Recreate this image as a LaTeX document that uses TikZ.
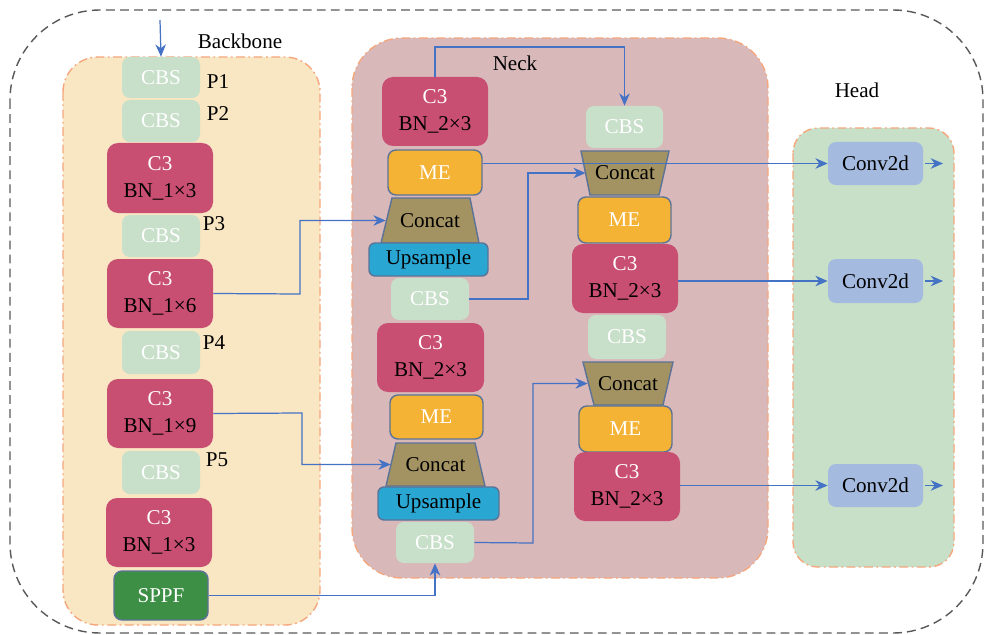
\documentclass[tikz,border=0pt]{standalone}
\usepackage{fontspec}
\setmainfont{Liberation Serif}
\usetikzlibrary{arrows.meta}
\definecolor{bbfill}{HTML}{F9E6C3}
\definecolor{neckfill}{HTML}{D9B8BA}
\definecolor{headfill}{HTML}{C8DFC8}
\definecolor{cbsfill}{HTML}{C8DFCA}
\definecolor{cthree}{HTML}{C84E72}
\definecolor{mefill}{HTML}{F5B335}
\definecolor{catfill}{HTML}{A39262}
\definecolor{upfill}{HTML}{2AA6D2}
\definecolor{sppffill}{HTML}{3D8F45}
\definecolor{convfill}{HTML}{A4BADF}
\definecolor{edgeblue}{HTML}{5B7397}
\definecolor{orangeb}{HTML}{F5A77D}
\definecolor{arrblue}{HTML}{4472C4}
\newcommand{\bx}[7]{\node[#2, minimum width={(#5-#3)*0.02cm}, minimum height={(#6-#4)*0.02cm}] (#1) at ({(#3+#5)/2},{(#4+#6)/2}) {#7};}
\begin{document}
\begin{tikzpicture}[x=0.02cm,y=-0.02cm,
  font=\fontsize{12}{15.5}\selectfont,
  base/.style={inner sep=0pt, align=center},
  container/.style={draw=orangeb, line width=0.8pt, dash pattern=on 5pt off 2pt on 1pt off 2pt, rounded corners=0.7cm},
  cbsbox/.style={base, fill=cbsfill, rounded corners=0.16cm, text=white},
  cthreebox/.style={base, fill=cthree, rounded corners=0.22cm},
  mebox/.style={base, fill=mefill, draw=edgeblue, line width=0.8pt, rounded corners=0.16cm, text=white},
  upbox/.style={base, fill=upfill, draw=edgeblue, line width=0.8pt, rounded corners=0.12cm},
  sppfbox/.style={base, fill=sppffill, draw=edgeblue, line width=0.8pt, rounded corners=0.16cm, text=white},
  convbox/.style={base, fill=convfill, rounded corners=0.16cm},
  catshape/.style={fill=catfill, draw=edgeblue, line width=0.8pt},
  catnode/.style={base},
  lbl/.style={inner sep=0pt},
  arr/.style={draw=arrblue, line width=0.7pt, -{Stealth[length=7pt,width=6pt]}},
  conn/.style={draw=arrblue, line width=0.7pt}]
\useasboundingbox (0,0) rectangle (984,635);

% outer dashed frame
\draw[draw=black!65, line width=0.8pt, dash pattern=on 5pt off 3pt, rounded corners=1.8cm] (10,10) rectangle (983,633);

% containers
\draw[container, fill=bbfill] (63,57) rectangle (320,625);
\draw[container, fill=neckfill, rounded corners=1.0cm] (352,38) rectangle (768,578);
\draw[container, fill=headfill, rounded corners=0.5cm] (793,128) rectangle (954,567);

% titles
\node[lbl] (tbb) at (240,41) {Backbone};
\node[lbl] (tneck) at (515,63) {Neck};
\node[lbl] (thead) at (857,90) {Head};

% backbone
\bx{b1}{cbsbox}{122}{57}{200}{98}{CBS}
\bx{b2}{cbsbox}{122}{100}{200}{142}{CBS}
\bx{b3}{cthreebox}{107}{143}{213}{213}{\textcolor{white}{C3}\\BN\_1×3}
\bx{b4}{cbsbox}{122}{215}{200}{257}{CBS}
\bx{b5}{cthreebox}{107}{259}{213}{328}{\textcolor{white}{C3}\\BN\_1×6}
\bx{b6}{cbsbox}{122}{331}{200}{374}{CBS}
\bx{b7}{cthreebox}{107}{379}{213}{448}{\textcolor{white}{C3}\\BN\_1×9}
\bx{b8}{cbsbox}{122}{451}{200}{494}{CBS}
\bx{b9}{cthreebox}{106}{498}{212}{567}{\textcolor{white}{C3}\\BN\_1×3}
\bx{sppf}{sppfbox}{114}{571}{208}{620}{SPPF}

\node[lbl] (p1) at (218,82) {P1};
\node[lbl] (p2) at (218,114) {P2};
\node[lbl] (p3) at (214,224) {P3};
\node[lbl] (p4) at (214,343) {P4};
\node[lbl] (p5) at (217,460) {P5};

\coordinate (inp) at (160,20);

% neck left column
\bx{n1}{cthreebox}{382}{77}{488}{146}{\textcolor{white}{C3}\\BN\_2×3}
\bx{me1}{mebox}{388}{150}{482}{195}{ME}
\draw[catshape] (392,198) -- (470,198) -- (479,243) -- (381,243) -- cycle;
\bx{catA}{catnode}{386}{198}{474}{243}{Concat}
\bx{up1}{upbox}{369}{243}{488}{276}{Upsample}
\bx{cbsN1}{cbsbox}{391}{278}{469}{320}{CBS}
\bx{n2}{cthreebox}{377}{323}{484}{392}{\textcolor{white}{C3}\\BN\_2×3}
\bx{me2}{mebox}{390}{395}{483}{439}{ME}
\draw[catshape] (396,443) -- (475,443) -- (485,486) -- (386,486) -- cycle;
\bx{catB}{catnode}{391}{443}{480}{486}{Concat}
\bx{up2}{upbox}{378}{487}{499}{520}{Upsample}
\bx{cbsN2}{cbsbox}{396}{522}{474}{563}{CBS}

% neck right column
\bx{cbsR1}{cbsbox}{586}{106}{663}{148}{CBS}
\draw[catshape] (581,151) -- (669,151) -- (659,195) -- (590,195) -- cycle;
\bx{catC}{catnode}{586}{151}{664}{195}{Concat}
\bx{me3}{mebox}{578}{197}{671}{243}{ME}
\bx{r1}{cthreebox}{572}{244}{678}{313}{\textcolor{white}{C3}\\BN\_2×3}
\bx{cbsR2}{cbsbox}{588}{315}{666}{359}{CBS}
\draw[catshape] (583,362) -- (673,362) -- (663,405) -- (594,405) -- cycle;
\bx{catD}{catnode}{588}{362}{668}{405}{Concat}
\bx{me4}{mebox}{579}{406}{672}{452}{ME}
\bx{r2}{cthreebox}{574}{452}{680}{521}{\textcolor{white}{C3}\\BN\_2×3}

% head
\bx{cv1}{convbox}{828}{142}{923}{185}{Conv2d}
\bx{cv2}{convbox}{828}{259}{923}{303}{Conv2d}
\bx{cv3}{convbox}{828}{464}{923}{507}{Conv2d}
\coordinate (o1) at (943,163.5);
\coordinate (o2) at (943,281);
\coordinate (o3) at (943,485.5);

% connectors
\draw[arr] (inp) -- (b1.north);
\draw[arr] (b5.east) -- (300,294) |- (catA.west);
\draw[arr] (b7.east) -- (302,413) |- (catB.west);
\draw[arr] (sppf.east) -| (cbsN2.south);
\draw[arr] (n1.north) -- (435,47) -| (cbsR1.north);
\draw[arr] (me1.east |- cv1.west) -- (cv1.west);
\draw[arr] (cbsN1.east) -- (528,299) |- (catC.west);
\draw[arr] (r1.east |- cv2.west) -- (cv2.west);
\draw[arr] (cbsN2.east) -- (533,543) |- (catD.west);
\draw[arr] (r2.east |- cv3.west) -- (cv3.west);
\draw[arr] (cv1.east) ++(2,0) -- (o1);
\draw[arr] (cv2.east) ++(2,0) -- (o2);
\draw[arr] (cv3.east) ++(2,0) -- (o3);
\end{tikzpicture}
\end{document}
